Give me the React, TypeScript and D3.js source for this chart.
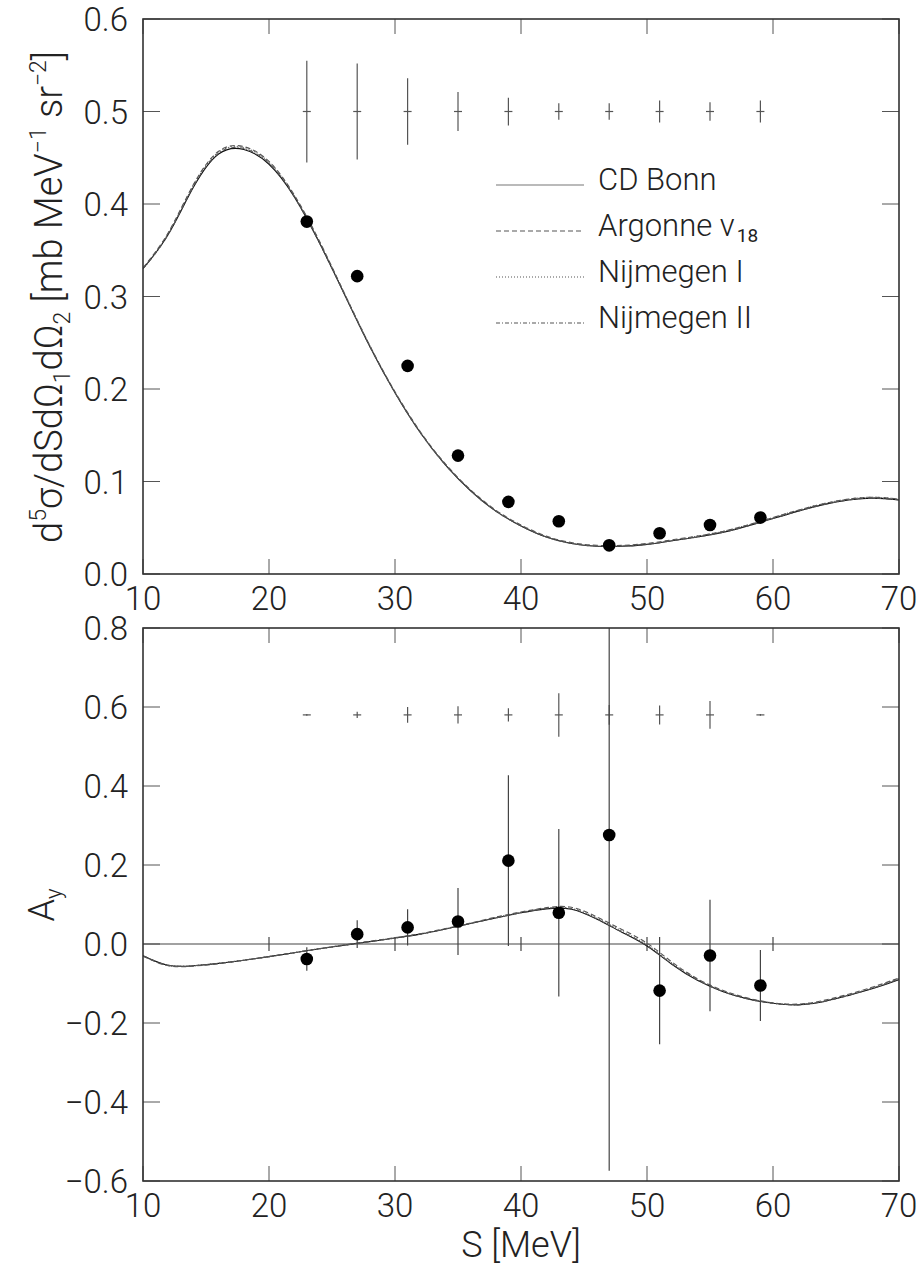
import React, { useEffect, useRef } from 'react'
import * as d3 from 'd3'

// measured points (S in MeV)
const ENERGIES = [23, 27, 31, 35, 39, 43, 47, 51, 55, 59]
const XSEC = [0.381, 0.322, 0.225, 0.128, 0.078, 0.057, 0.031, 0.044, 0.053, 0.061]
const XSEC_ERR = [0.004, 0.004, 0.004, 0.003, 0.003, 0.003, 0.003, 0.003, 0.003, 0.003]
const XSEC_SYS = [0.055, 0.052, 0.036, 0.021, 0.015, 0.009, 0.009, 0.012, 0.010, 0.012]
const AY = [-0.038, 0.025, 0.042, 0.057, 0.211, 0.079, 0.276, -0.118, -0.029, -0.105]
const AY_ERR = [0.03, 0.035, 0.046, 0.085, 0.216, 0.212, 0.85, 0.136, 0.141, 0.09]
const AY_SYS = [0.002, 0.008, 0.02, 0.022, 0.017, 0.055, 0.025, 0.024, 0.035, 0.002]

// theory curves
const GRID = [10, 12, 14, 16, 18, 20, 22, 24, 26, 28, 30, 32, 34, 36, 38, 40, 42, 44, 46, 48, 50, 52, 54, 56, 58, 60, 62, 64, 66, 68, 70]
const XSEC_CDBONN = [0.330, 0.367, 0.418, 0.454, 0.459, 0.443, 0.408, 0.358, 0.302, 0.246, 0.196, 0.153, 0.118, 0.090, 0.068, 0.052, 0.040, 0.033, 0.030, 0.030, 0.032, 0.036, 0.040, 0.045, 0.052, 0.060, 0.068, 0.075, 0.080, 0.082, 0.080]
const XSEC_AV18 = [0.331, 0.369, 0.421, 0.457, 0.462, 0.446, 0.410, 0.360, 0.303, 0.247, 0.197, 0.154, 0.119, 0.091, 0.069, 0.053, 0.041, 0.034, 0.031, 0.031, 0.033, 0.037, 0.041, 0.046, 0.053, 0.061, 0.069, 0.076, 0.081, 0.083, 0.081]
const XSEC_NIJM1 = [0.330, 0.368, 0.420, 0.456, 0.461, 0.445, 0.409, 0.359, 0.303, 0.247, 0.196, 0.153, 0.118, 0.090, 0.068, 0.052, 0.040, 0.033, 0.030, 0.030, 0.032, 0.036, 0.041, 0.046, 0.053, 0.061, 0.069, 0.076, 0.081, 0.083, 0.081]
const XSEC_NIJM2 = [0.330, 0.367, 0.419, 0.455, 0.460, 0.444, 0.408, 0.358, 0.302, 0.246, 0.196, 0.153, 0.118, 0.090, 0.068, 0.052, 0.040, 0.033, 0.030, 0.030, 0.032, 0.036, 0.040, 0.045, 0.052, 0.060, 0.068, 0.075, 0.080, 0.082, 0.080]
const AY_CDBONN = [-0.030, -0.054, -0.055, -0.049, -0.041, -0.032, -0.022, -0.012, -0.003, 0.006, 0.015, 0.025, 0.038, 0.052, 0.066, 0.079, 0.089, 0.088, 0.063, 0.030, -0.005, -0.052, -0.092, -0.120, -0.139, -0.150, -0.154, -0.146, -0.130, -0.112, -0.090]
const AY_AV18 = [-0.031, -0.055, -0.056, -0.050, -0.041, -0.032, -0.022, -0.012, -0.002, 0.007, 0.016, 0.026, 0.039, 0.053, 0.068, 0.081, 0.092, 0.093, 0.069, 0.037, 0.002, -0.046, -0.088, -0.117, -0.137, -0.149, -0.152, -0.143, -0.127, -0.108, -0.086]
const AY_NIJM1 = [-0.030, -0.054, -0.055, -0.049, -0.041, -0.032, -0.022, -0.012, -0.003, 0.006, 0.015, 0.025, 0.038, 0.052, 0.067, 0.080, 0.090, 0.090, 0.066, 0.033, -0.002, -0.049, -0.090, -0.119, -0.138, -0.150, -0.153, -0.145, -0.129, -0.110, -0.088]
const AY_NIJM2 = [-0.030, -0.054, -0.055, -0.049, -0.041, -0.032, -0.022, -0.012, -0.003, 0.006, 0.015, 0.025, 0.038, 0.052, 0.066, 0.079, 0.090, 0.089, 0.064, 0.031, -0.004, -0.051, -0.091, -0.120, -0.139, -0.150, -0.154, -0.146, -0.130, -0.111, -0.089]

const MODELS = ['CD Bonn', 'Argonne v', 'Nijmegen I', 'Nijmegen II']
const DASHES = [null, '5,3', '1,2', '4,2,1,2']

const S_TICKS = [10, 20, 30, 40, 50, 60, 70]
const XSEC_TICKS = [0, 0.1, 0.2, 0.3, 0.4, 0.5, 0.6]
const AY_TICKS = [-0.6, -0.4, -0.2, 0, 0.2, 0.4, 0.6, 0.8]

const W = 922
const H = 1267
const LEFT = 143
const RIGHT = 899
const FONT = 'Roboto, "DejaVu Sans", sans-serif'

function fmt (v: number) {
  return (v < 0 ? '\u2212' : '') + Math.abs(v).toFixed(1)
}

function drawPanel (svg: any, cfg: any, x: any, id: string) {
  const y = d3.scaleLinear().domain(cfg.domain).range([cfg.bottom, cfg.top])
  const g = svg.append('g')

  g.append('clipPath').attr('id', id)
    .append('rect')
    .attr('x', LEFT).attr('y', cfg.top)
    .attr('width', RIGHT - LEFT).attr('height', cfg.bottom - cfg.top)

  // ticks, inward on all four sides
  const tk = g.append('g').attr('stroke', '#555').attr('stroke-width', 1)
  S_TICKS.forEach((s) => {
    tk.append('line').attr('x1', x(s)).attr('x2', x(s)).attr('y1', cfg.bottom).attr('y2', cfg.bottom - 15)
    tk.append('line').attr('x1', x(s)).attr('x2', x(s)).attr('y1', cfg.top).attr('y2', cfg.top + 15)
  })
  cfg.ticks.forEach((v: number) => {
    tk.append('line').attr('x1', LEFT).attr('x2', LEFT + 17).attr('y1', y(v)).attr('y2', y(v))
    tk.append('line').attr('x1', RIGHT).attr('x2', RIGHT - 17).attr('y1', y(v)).attr('y2', y(v))
  })

  if (cfg.zeroLine) {
    const z = g.append('g').attr('stroke', '#444').attr('stroke-width', 1.2)
    z.append('line').attr('x1', LEFT).attr('x2', RIGHT).attr('y1', y(0)).attr('y2', y(0))
    S_TICKS.slice(1, -1).forEach((s) => {
      z.append('line').attr('x1', x(s)).attr('x2', x(s)).attr('y1', y(0) - 7).attr('y2', y(0) + 7)
    })
  }

  // theory curves
  const line = d3.line<number>()
    .x((d, i) => x(GRID[i]))
    .y((d) => y(d))
    .curve(d3.curveNatural)
  const cg = g.append('g').attr('clip-path', `url(#${id})`).attr('fill', 'none')
  cfg.curves.forEach((c: number[], i: number) => {
    const p = cg.append('path').attr('d', line(c))
      .attr('stroke', i === 0 ? '#111' : '#555')
      .attr('stroke-width', 1.1)
    if (DASHES[i]) p.attr('stroke-dasharray', DASHES[i])
  })

  // systematic error markers
  const sg = g.append('g').attr('stroke', '#555').attr('stroke-width', 1.2)
  ENERGIES.forEach((s, i) => {
    const c = cfg.sysLevel
    const e = cfg.sys[i]
    sg.append('line').attr('x1', x(s)).attr('x2', x(s)).attr('y1', y(c - e)).attr('y2', y(c + e))
    sg.append('line').attr('x1', x(s) - 4).attr('x2', x(s) + 4).attr('y1', y(c)).attr('y2', y(c))
  })

  // data points with statistical errors
  const dg = g.append('g').attr('clip-path', `url(#${id})`)
  ENERGIES.forEach((s, i) => {
    dg.append('line')
      .attr('x1', x(s)).attr('x2', x(s))
      .attr('y1', y(cfg.values[i] - cfg.errors[i]))
      .attr('y2', y(cfg.values[i] + cfg.errors[i]))
      .attr('stroke', '#444').attr('stroke-width', 1.2)
  })
  dg.selectAll('circle').data(cfg.values).enter()
    .append('circle')
    .attr('cx', (d: number, i: number) => x(ENERGIES[i]))
    .attr('cy', (d: number) => y(d))
    .attr('r', 6.3)
    .attr('fill', '#000')

  // frame
  g.append('rect')
    .attr('x', LEFT).attr('y', cfg.top)
    .attr('width', RIGHT - LEFT).attr('height', cfg.bottom - cfg.top)
    .attr('fill', 'none').attr('stroke', '#333').attr('stroke-width', 1.6)

  // tick labels
  const lg = g.append('g').attr('font-family', FONT).attr('font-weight', 300)
    .attr('font-size', 33).attr('fill', '#222')
  cfg.ticks.forEach((v: number) => {
    lg.append('text').attr('x', 128).attr('y', y(v) + 12)
      .attr('text-anchor', 'end').text(fmt(v))
  })
  S_TICKS.forEach((s) => {
    lg.append('text').attr('x', x(s)).attr('y', cfg.bottom + 36)
      .attr('text-anchor', 'middle').text(s)
  })
  return y
}

export default function App () {
  const ref = useRef<SVGSVGElement>(null)

  useEffect(() => {
    const svg = d3.select(ref.current)
    svg.selectAll('*').remove()
    const x = d3.scaleLinear().domain([10, 70]).range([LEFT, RIGHT])

    drawPanel(svg, {
      domain: [0, 0.6], top: 19, bottom: 574, ticks: XSEC_TICKS,
      values: XSEC, errors: XSEC_ERR, sys: XSEC_SYS, sysLevel: 0.5,
      curves: [XSEC_CDBONN, XSEC_AV18, XSEC_NIJM1, XSEC_NIJM2]
    }, x, 'clip-top')

    drawPanel(svg, {
      domain: [-0.6, 0.8], top: 628, bottom: 1181, ticks: AY_TICKS, zeroLine: true,
      values: AY, errors: AY_ERR, sys: AY_SYS, sysLevel: 0.58,
      curves: [AY_CDBONN, AY_AV18, AY_NIJM1, AY_NIJM2]
    }, x, 'clip-bot')

    // legend
    const leg = svg.append('g').attr('font-family', FONT).attr('font-weight', 300)
      .attr('font-size', 31).attr('fill', '#222')
    MODELS.forEach((m, i) => {
      const base = 190 + i * 46
      const l = leg.append('line').attr('x1', 496).attr('x2', 584)
        .attr('y1', base - 5).attr('y2', base - 5)
        .attr('stroke', i === 0 ? '#777' : '#555').attr('stroke-width', 1.1)
      if (DASHES[i]) l.attr('stroke-dasharray', DASHES[i])
      const t = leg.append('text').attr('x', 598).attr('y', base)
      t.append('tspan').text(m)
      if (i === 1) t.append('tspan').attr('font-size', 19).attr('font-weight', 400).attr('dy', 6).attr('dx', 2).text('18')
    })

    // axis titles
    const tt = svg.append('g').attr('font-family', FONT).attr('font-weight', 300)
      .attr('fill', '#222')
    const yt = tt.append('text')
      .attr('transform', 'translate(62,297) rotate(-90)')
      .attr('text-anchor', 'middle').attr('font-size', 38)
    yt.append('tspan').text('d')
    yt.append('tspan').attr('font-size', 23).attr('dy', -16).text('5')
    yt.append('tspan').attr('dy', 16).text('\u03c3/dSd\u03a9')
    yt.append('tspan').attr('font-size', 23).attr('dy', 8).text('1')
    yt.append('tspan').attr('dy', -8).text('d\u03a9')
    yt.append('tspan').attr('font-size', 23).attr('dy', 8).text('2')
    yt.append('tspan').attr('dy', -8).text(' [mb MeV')
    yt.append('tspan').attr('font-size', 23).attr('dy', -16).text('\u22121')
    yt.append('tspan').attr('dy', 16).text(' sr')
    yt.append('tspan').attr('font-size', 23).attr('dy', -16).text('\u22122')
    yt.append('tspan').attr('dy', 16).text(']')

    const ay = tt.append('text')
      .attr('transform', 'translate(54,905) rotate(-90)')
      .attr('text-anchor', 'middle').attr('font-size', 36)
    ay.append('tspan').text('A')
    ay.append('tspan').attr('font-size', 22).attr('dy', 7).text('y')

    tt.append('text').attr('x', (LEFT + RIGHT) / 2).attr('y', 1257)
      .attr('text-anchor', 'middle').attr('font-size', 36).text('S [MeV]')
  }, [])

  return (
    <svg ref={ref} width={W} height={H}
      style={{ position: 'absolute', left: 0, top: 0, background: '#fff' }} />
  )
}
